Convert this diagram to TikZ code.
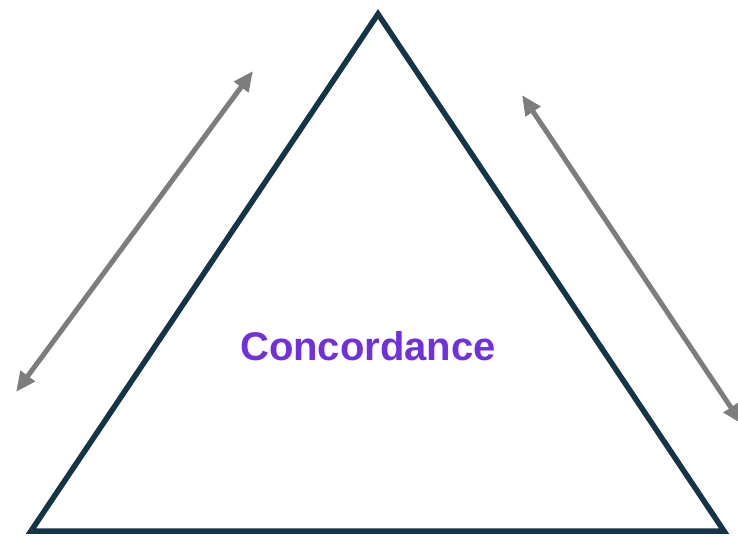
\documentclass[tikz,border=0pt]{standalone}
\usepackage{fontspec}
\setmainfont{Liberation Sans}
\usetikzlibrary{arrows.meta}
\definecolor{triclr}{RGB}{22,52,72}
\definecolor{arrclr}{RGB}{125,125,125}
\definecolor{txtclr}{RGB}{112,48,220}
\tikzset{
  tri/.style={draw=triclr,line width=5.5pt,line join=miter},
  arr/.style={{Triangle[length=20pt,width=17pt]}-{Triangle[length=20pt,width=17pt]},
              draw=arrclr,line width=5pt},
  lbl/.style={font=\fontsize{40}{44}\selectfont\bfseries,text=txtclr},
}
\begin{document}
\begin{tikzpicture}[x=1pt,y=-1pt]
\useasboundingbox (0,0) rectangle (738,537);

% Triangle corners
\coordinate (apex) at (378,14);
\coordinate (botL) at (31,531);
\coordinate (botR) at (724,531);
\draw[tri] (apex) -- (botR) -- (botL) -- cycle;

% Label
\node[lbl] (conc) at (368,346) {Concordance};

% Side arrows
\coordinate (aL1) at (16,392);
\coordinate (aL2) at (253,71);
\coordinate (aR1) at (522,95);
\coordinate (aR2) at (742,424);
\draw[arr] (aL1) -- (aL2);
\draw[arr] (aR1) -- (aR2);

\end{tikzpicture}
\end{document}
